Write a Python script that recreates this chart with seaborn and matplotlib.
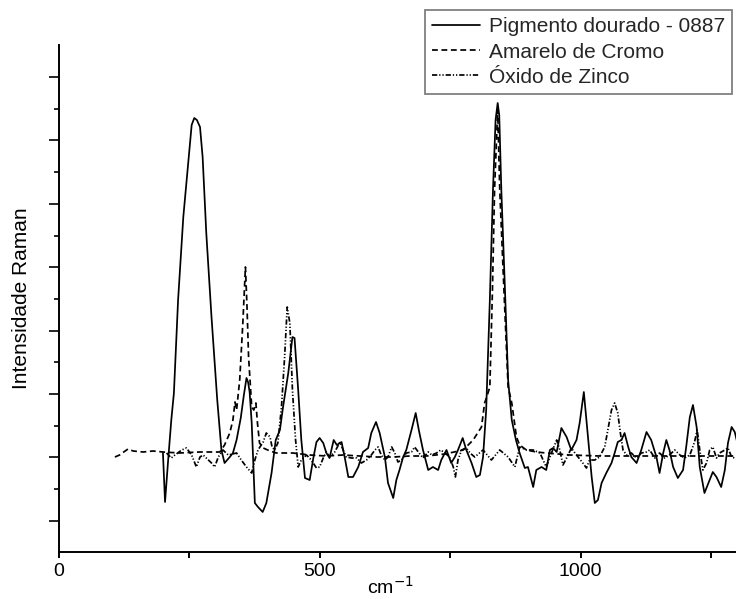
import matplotlib
matplotlib.use("Agg")
import matplotlib.pyplot as plt
from matplotlib.ticker import FixedLocator, NullFormatter
import seaborn as sns

# ---- data (wavenumber in cm-1, Raman intensity in arbitrary units) ----
pig_wn = [200, 204, 210, 216, 221, 229, 239, 250, 255, 260,
          265, 271, 276, 283, 293, 304, 312, 318, 328, 334,
          341, 349, 355, 360, 363, 366, 370, 376, 382, 391,
          398, 408, 416, 424, 430, 440, 448, 452, 459, 465,
          472, 481, 488, 494, 500, 507, 513, 519, 527, 533,
          542, 548, 555, 564, 574, 583, 593, 599, 608, 615,
          625, 631, 641, 647, 653, 660, 666, 676, 684, 690,
          698, 708, 717, 727, 733, 743, 752, 759, 765, 774,
          781, 791, 800, 807, 813, 819, 826, 832, 837, 841,
          844, 848, 855, 861, 868, 876, 883, 893, 899, 909,
          915, 925, 934, 941, 947, 954, 963, 973, 982, 992,
          998, 1006, 1014, 1021, 1027, 1033, 1040, 1049, 1059, 1065,
          1071, 1078, 1084, 1091, 1097, 1107, 1116, 1126, 1135, 1145,
          1151, 1158, 1164, 1170, 1177, 1186, 1196, 1202, 1209, 1215,
          1222, 1228, 1237, 1247, 1253, 1260, 1269, 1276, 1282, 1289,
          1295, 1301]
pig_int = [74, 25, 67, 107, 134, 227, 310, 374, 402, 409,
           407, 400, 370, 294, 210, 127, 77, 64, 70, 74,
           87, 109, 132, 149, 145, 135, 104, 24, 20, 15,
           24, 54, 87, 97, 120, 154, 190, 189, 137, 87,
           49, 47, 69, 85, 89, 84, 74, 69, 87, 82,
           85, 70, 50, 50, 60, 75, 79, 94, 105, 94,
           70, 44, 29, 47, 57, 70, 77, 97, 114, 97,
           77, 57, 60, 57, 67, 77, 64, 70, 77, 89,
           77, 64, 50, 52, 70, 117, 227, 337, 407, 424,
           412, 337, 237, 147, 107, 87, 74, 59, 60, 40,
           57, 60, 57, 77, 79, 75, 99, 90, 77, 87,
           104, 135, 90, 50, 24, 27, 44, 54, 64, 74,
           85, 87, 94, 80, 70, 64, 77, 95, 87, 70,
           54, 74, 87, 77, 60, 49, 57, 80, 110, 122,
           100, 60, 34, 47, 55, 50, 40, 57, 84, 100,
           95, 82]

cromo_wn = [108, 117, 133, 143, 162, 181, 200, 232, 270, 309,
            318, 328, 334, 338, 341, 347, 353, 358, 361, 364,
            370, 374, 378, 381, 385, 392, 405, 417, 449, 481,
            513, 545, 577, 609, 641, 673, 705, 740, 775, 794,
            810, 816, 820, 826, 831, 835, 841, 845, 853, 861,
            868, 877, 883, 896, 915, 934, 979, 1036, 1132, 1228,
            1301]
cromo_int = [70, 72, 78, 76, 75, 76, 75, 74, 75, 75,
             82, 94, 107, 125, 117, 147, 204, 260, 220, 170,
             120, 117, 124, 104, 84, 79, 76, 74, 74, 72,
             71, 72, 71, 70, 70, 71, 71, 73, 77, 87,
             100, 124, 130, 140, 237, 337, 417, 337, 237, 140,
             124, 90, 82, 77, 75, 74, 72, 71, 71, 71,
             71]

zinco_wn = [207, 216, 223, 236, 245, 255, 264, 271, 277, 283,
            293, 299, 306, 315, 325, 341, 350, 360, 370, 376,
            382, 392, 398, 405, 409, 414, 420, 427, 433, 438,
            443, 448, 454, 459, 465, 475, 484, 494, 500, 507,
            513, 519, 529, 539, 545, 551, 561, 571, 580, 590,
            599, 606, 612, 618, 625, 631, 638, 644, 650, 657,
            666, 676, 682, 689, 698, 708, 715, 724, 732, 740,
            749, 756, 760, 765, 772, 781, 788, 797, 813, 829,
            845, 861, 874, 883, 896, 909, 922, 934, 944, 954,
            960, 966, 976, 982, 989, 995, 1004, 1011, 1017, 1027,
            1036, 1046, 1052, 1059, 1065, 1071, 1076, 1081, 1088, 1097,
            1107, 1116, 1126, 1132, 1142, 1151, 1161, 1170, 1180, 1190,
            1199, 1209, 1218, 1223, 1228, 1234, 1241, 1247, 1253, 1260,
            1266, 1276, 1282, 1289, 1295]
zinco_int = [74, 69, 72, 77, 79, 72, 60, 70, 72, 69,
             64, 60, 70, 77, 72, 74, 67, 60, 54, 67,
             77, 85, 94, 90, 80, 77, 84, 120, 170, 220,
             204, 137, 87, 60, 67, 72, 67, 59, 60, 69,
             75, 70, 75, 85, 77, 70, 69, 69, 64, 67,
             72, 77, 80, 72, 67, 70, 80, 74, 65, 67,
             74, 75, 80, 75, 69, 75, 72, 74, 77, 74,
             70, 60, 50, 67, 77, 79, 74, 70, 77, 67,
             77, 70, 60, 80, 77, 77, 74, 60, 74, 87,
             77, 62, 72, 79, 74, 70, 64, 59, 67, 67,
             70, 80, 97, 117, 124, 114, 94, 77, 72, 74,
             69, 74, 75, 77, 69, 74, 69, 72, 77, 72,
             69, 72, 85, 97, 77, 57, 64, 77, 80, 69,
             74, 77, 79, 70, 69]

series_labels = ["Pigmento dourado - 0887", "Amarelo de Cromo", "\u00d3xido de Zinco"]
x_ticks = [0, 500, 1000]
x_minor_ticks = [250, 750, 1250]

# ---- style ----
sns.set_style("ticks")
plt.rcParams["font.family"] = ["Liberation Sans", "DejaVu Sans"]
plt.rcParams["lines.scale_dashes"] = False

W, H = 736, 599
fig = plt.figure(figsize=(W / 100, H / 100), dpi=100)
left_px, bottom_px, top_px = 58.5, 552, 45
ax = fig.add_axes([left_px / W, 1 - bottom_px / H, 1 - left_px / W, (bottom_px - top_px) / H])

lw = 1.25
common = dict(ax=ax, color="black", linewidth=lw, sort=False, estimator=None)
sns.lineplot(x=pig_wn, y=pig_int, linestyle="-", label=series_labels[0], **common)
sns.lineplot(x=cromo_wn, y=cromo_int, linestyle=(0, (4.2, 2.6)), label=series_labels[1], **common)
sns.lineplot(x=zinco_wn, y=zinco_int, linestyle=(0, (3.8, 1.4, 0.9, 1.4, 0.9, 1.4)),
             label=series_labels[2], **common)
for ln in ax.get_lines():
    ln.set_solid_joinstyle("round")
    ln.set_dash_joinstyle("round")

# axes limits (arbitrary intensity units)
ax.set_xlim(0, (W - left_px) / 0.5222)
ax.set_ylim(-25, 482)

step = 63.4
y_major = [6.2 + step * k for k in range(8)]
y_minor = [6.2 + step / 2 + step * k for k in range(7)]
ax.yaxis.set_major_locator(FixedLocator(y_major))
ax.yaxis.set_minor_locator(FixedLocator(y_minor))
ax.yaxis.set_major_formatter(NullFormatter())
ax.xaxis.set_major_locator(FixedLocator(x_ticks))
ax.xaxis.set_minor_locator(FixedLocator(x_minor_ticks))
ax.set_xticklabels([str(v) for v in x_ticks])

for s in ["top", "right"]:
    ax.spines[s].set_visible(False)
for s in ["left", "bottom"]:
    ax.spines[s].set_linewidth(1.4)
    ax.spines[s].set_color("black")

ax.tick_params(axis="x", which="both", direction="out", length=4.5, width=1.4,
               pad=3.5, labelsize=14, colors="black")
ax.tick_params(axis="y", which="major", direction="out", length=7.2, width=1.4, labelleft=False)
ax.tick_params(axis="y", which="minor", direction="out", length=3.6, width=1.4)

ax.set_ylabel("Intensidade Raman", fontsize=15, color="black")
ax.yaxis.set_label_coords(-0.040, 0.5)
ax.set_xlabel("cm$^{-1}$", fontsize=14, color="black", va="bottom")
ax.xaxis.set_label_coords((390 - left_px) / (W - left_px), (bottom_px - 597.5) / (bottom_px - top_px))

leg = ax.legend(loc="upper left", bbox_to_anchor=(425 / W, 1 - 10 / H),
                bbox_transform=fig.transFigure, frameon=True, fancybox=False,
                edgecolor="#808080", framealpha=1, fontsize=15, handlelength=2.3,
                handletextpad=0.4, borderpad=0.35, labelspacing=0.3, borderaxespad=0)
leg.get_frame().set_linewidth(1.3)

fig.savefig("out.png", dpi=100)
